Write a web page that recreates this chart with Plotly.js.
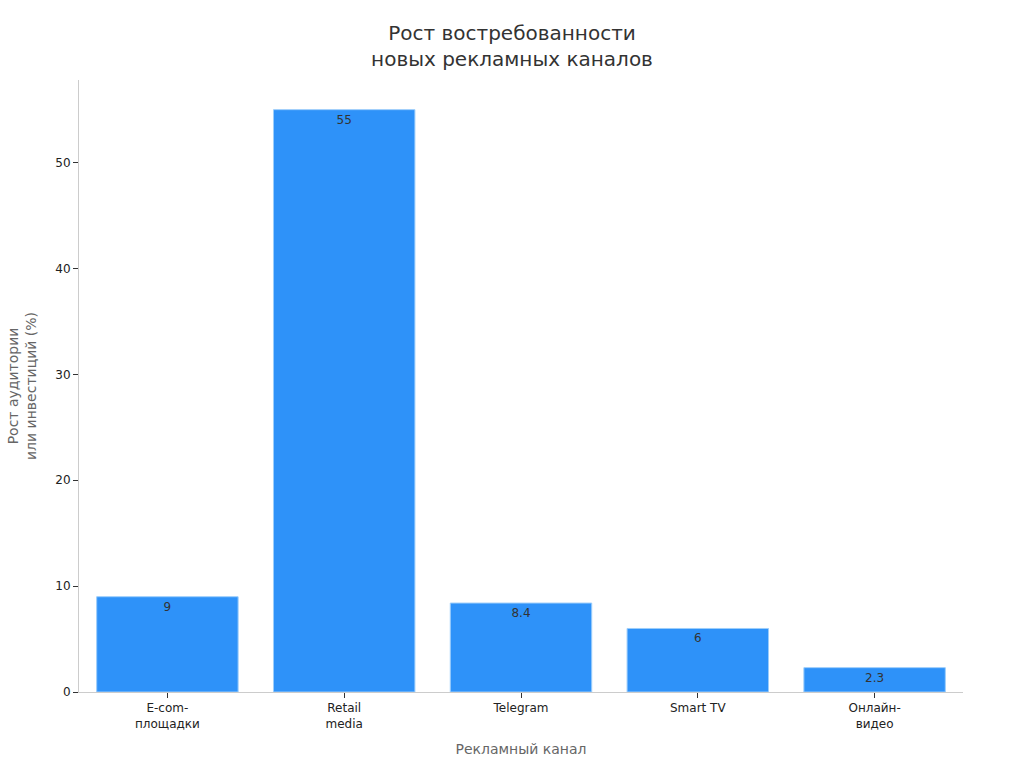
<!DOCTYPE html>
<html>
<head>
<meta charset="utf-8">
<script src="https://cdn.plot.ly/plotly-3.0.1.min.js"></script>
<style>
  html, body { margin: 0; padding: 0; background: #fff; }
  #chart { width: 1024px; height: 768px; }
</style>
</head>
<body>
<div id="chart"></div>
<script>
// Каналы и прирост (%)
const channels = ['E-com-<br>площадки', 'Retail<br>media', 'Telegram', 'Smart TV', 'Онлайн-<br>видео'];
const growth = [9, 55, 8.4, 6, 2.3];
const yTicks = [0, 10, 20, 30, 40, 50];

const font = 'DejaVu Sans, sans-serif';

const trace = {
    type: 'bar',
    x: channels,
    y: growth,
    text: growth.map(String),
    textposition: 'inside',
    insidetextanchor: 'end',
    textangle: 0,
    textfont: { family: font, size: 12, color: '#333' },
    marker: {
        color: '#2E92F9',
        line: { color: '#9ccdfb', width: 1 }
    },
    hoverinfo: 'x+y'
};

const layout = {
    width: 1024,
    height: 768,
    paper_bgcolor: '#fff',
    plot_bgcolor: '#fff',
    font: { family: font, color: '#222' },
    title: {
        text: 'Рост востребованности<br>новых рекламных каналов',
        font: { family: font, size: 20, color: '#333' },
        x: 0.5,
        xanchor: 'center',
        y: 0.948,
        yanchor: 'top'
    },
    margin: { l: 79, r: 61, t: 80, b: 76 },
    bargap: 0.2,
    showlegend: false,
    xaxis: {
        title: { text: 'Рекламный канал', font: { family: font, size: 14, color: '#666' }, standoff: 14 },
        tickfont: { family: font, size: 12, color: '#222' },
        showline: true,
        linecolor: '#ccc',
        linewidth: 1,
        ticks: 'outside',
        ticklen: 5,
        tickcolor: '#333',
        showgrid: false,
        zeroline: false
    },
    yaxis: {
        title: { text: 'Рост аудитории<br>или инвестиций (%)', font: { family: font, size: 14, color: '#666' }, standoff: 15 },
        range: [0, 57.8],
        tickvals: yTicks,
        tickfont: { family: font, size: 12, color: '#222' },
        showline: true,
        linecolor: '#ccc',
        linewidth: 1,
        ticks: 'outside',
        ticklen: 5,
        tickcolor: '#333',
        showgrid: false,
        zeroline: false
    }
};

Plotly.newPlot('chart', [trace], layout, { displayModeBar: false, responsive: false });
</script>
</body>
</html>
